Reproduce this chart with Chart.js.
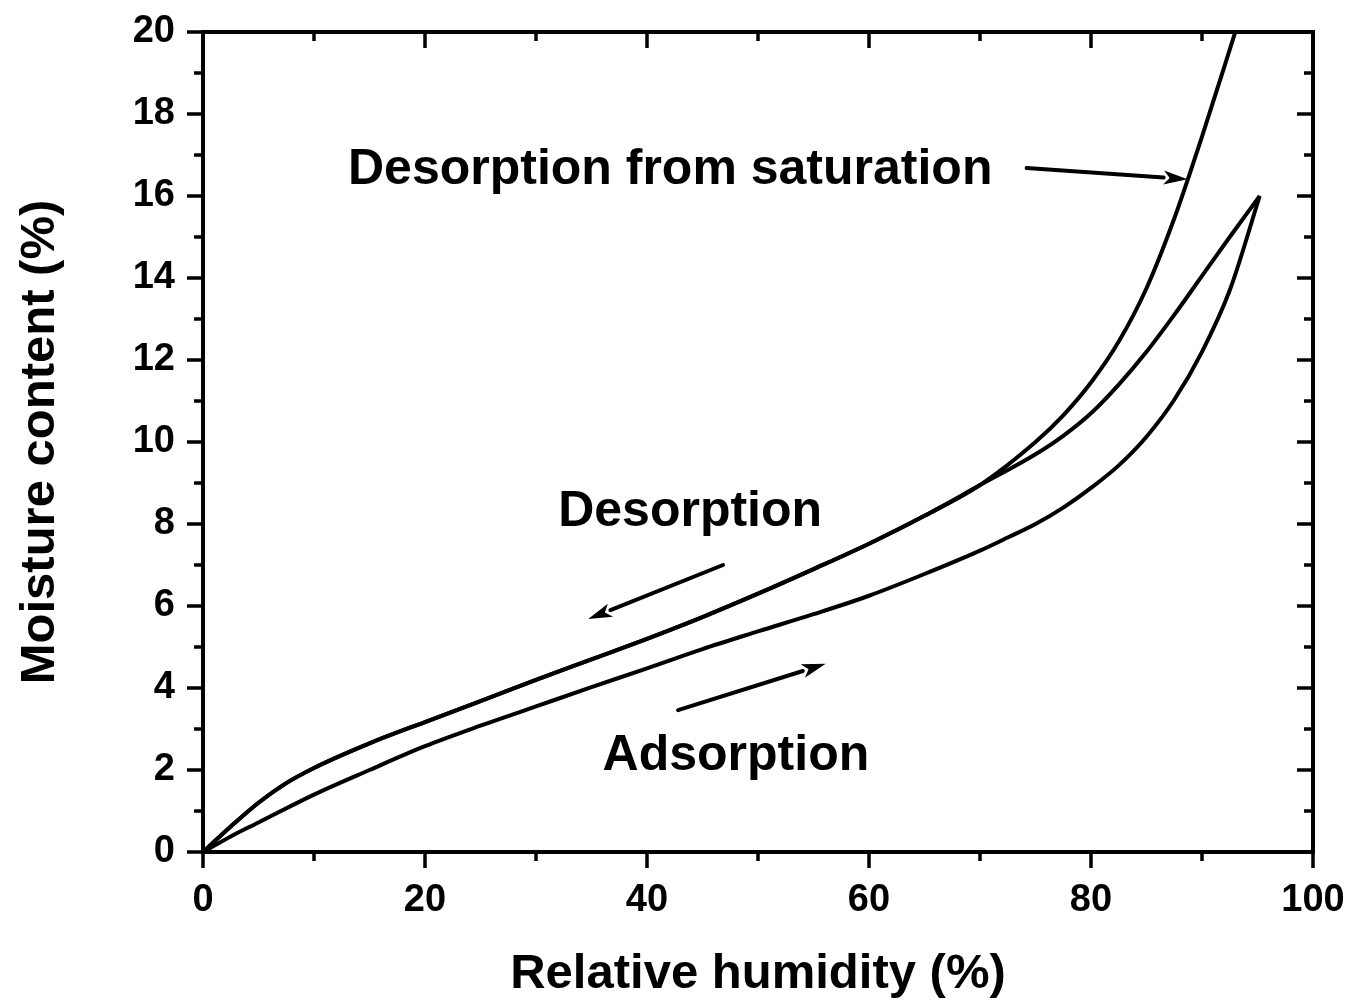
<!DOCTYPE html>
<html><head><meta charset="utf-8">
<script src="https://cdn.jsdelivr.net/npm/chart.js@4.4.1/dist/chart.umd.min.js"></script>
<style>html,body{margin:0;padding:0;background:#fff;}</style>
</head><body>
<canvas id="c" width="1352" height="1007"></canvas>
<script>
// ---- Data ----
const adsorptionRH = [0, 2.5, 5, 10, 15, 20, 25, 30, 35, 40, 45, 50, 55, 60, 65, 70, 72.5, 75, 77.5, 80, 82.5, 85, 87.5, 90, 92.5, 95.2];
const adsorptionMC = [0, 0.38, 0.72, 1.4, 2.0, 2.58, 3.08, 3.55, 4.02, 4.48, 4.95, 5.38, 5.8, 6.25, 6.78, 7.35, 7.67, 8.0, 8.4, 8.88, 9.43, 10.13, 11.03, 12.2, 13.7, 16];

const desorptionRH = [0, 2.5, 5, 7.5, 10, 15, 20, 25, 30, 35, 40, 45, 50, 55, 60, 65, 70, 75, 77.5, 80, 82.5, 85, 87.5, 90, 92.5, 95.2];
const desorptionMC = [0, 0.62, 1.2, 1.68, 2.05, 2.65, 3.17, 3.68, 4.2, 4.7, 5.2, 5.73, 6.3, 6.9, 7.52, 8.2, 8.95, 9.7, 10.15, 10.7, 11.4, 12.2, 13.1, 14.05, 15.0, 16];

const satDesorptionRH = [0, 2.5, 5, 7.5, 10, 15, 20, 25, 30, 35, 40, 45, 50, 55, 60, 65, 70, 75, 77.5, 80, 82.5, 85, 87.5, 90, 93];
const satDesorptionMC = [0, 0.62, 1.2, 1.68, 2.05, 2.65, 3.17, 3.68, 4.2, 4.7, 5.2, 5.73, 6.3, 6.9, 7.52, 8.2, 8.95, 10.0, 10.65, 11.45, 12.45, 13.75, 15.45, 17.45, 20];

const xTickLabels = ['0', '20', '40', '60', '80', '100'];
const yTickLabels = ['0', '2', '4', '6', '8', '10', '12', '14', '16', '18', '20'];

const labelTexts = ['Desorption from saturation', 'Desorption', 'Adsorption'];
const labelX = [13.06, 32.0, 36.0];
const labelY = [16.3, 7.95, 2.0];

const arrowFromX = [74.2, 46.85, 42.8];
const arrowFromY = [16.68, 7.0, 3.46];
const arrowToX = [88.7, 34.7, 56.1];
const arrowToY = [16.41, 5.68, 4.59];

// ---- Helpers ----
const FONT = '"Liberation Sans", Arial, Helvetica, sans-serif';
function pts(xs, ys) { return xs.map((x, i) => ({ x: x, y: ys[i] })); }
function lineDs(label, xs, ys) {
  return { label: label, data: pts(xs, ys), showLine: true, borderColor: '#000', borderWidth: 4,
    pointRadius: 0, pointHoverRadius: 0, fill: false, cubicInterpolationMode: 'monotone' };
}

const framePlugin = {
  id: 'frame',
  afterDatasetsDraw(chart) {
    const { ctx, chartArea: a, scales: { x, y } } = chart;
    ctx.save();
    ctx.strokeStyle = '#000';
    ctx.lineWidth = 4;
    ctx.lineCap = 'butt';
    ctx.strokeRect(a.left, a.top, a.right - a.left, a.bottom - a.top);
    ctx.lineWidth = 3.5;
    ctx.beginPath();
    for (let v = x.min; v <= x.max; v += 10) {
      const px = x.getPixelForValue(v);
      const major = v % 20 === 0;
      const L = major ? 16 : 9;
      ctx.moveTo(px, a.bottom); ctx.lineTo(px, a.bottom + L);
      ctx.moveTo(px, a.top); ctx.lineTo(px, a.top + L);
    }
    for (let v = y.min; v <= y.max; v += 1) {
      const py = y.getPixelForValue(v);
      const major = v % 2 === 0;
      const L = major ? 16 : 9;
      ctx.moveTo(a.left, py); ctx.lineTo(a.left - L, py);
      ctx.moveTo(a.right, py); ctx.lineTo(a.right - L, py);
    }
    ctx.stroke();
    ctx.restore();
  }
};

const annotPlugin = {
  id: 'annot',
  afterDatasetsDraw(chart) {
    const { ctx, scales: { x, y } } = chart;
    ctx.save();
    ctx.fillStyle = '#000';
    ctx.strokeStyle = '#000';
    ctx.font = 'bold 50px ' + FONT;
    ctx.textAlign = 'left';
    ctx.textBaseline = 'alphabetic';
    for (let i = 0; i < labelTexts.length; i++) {
      ctx.fillText(labelTexts[i], x.getPixelForValue(labelX[i]), y.getPixelForValue(labelY[i]));
    }
    for (let i = 0; i < arrowFromX.length; i++) {
      const x0 = x.getPixelForValue(arrowFromX[i]), y0 = y.getPixelForValue(arrowFromY[i]);
      const x1 = x.getPixelForValue(arrowToX[i]), y1 = y.getPixelForValue(arrowToY[i]);
      const ang = Math.atan2(y1 - y0, x1 - x0);
      const hl = 24, hw = 7;
      const bx = x1 - hl * Math.cos(ang), by = y1 - hl * Math.sin(ang);
      ctx.lineWidth = 4;
      ctx.lineCap = 'round';
      ctx.beginPath(); ctx.moveTo(x0, y0); ctx.lineTo(bx, by); ctx.stroke();
      ctx.beginPath();
      ctx.moveTo(x1, y1);
      ctx.lineTo(bx + hw * Math.sin(ang), by - hw * Math.cos(ang));
      ctx.lineTo(bx + 0.25 * hl * Math.cos(ang), by + 0.25 * hl * Math.sin(ang));
      ctx.lineTo(bx - hw * Math.sin(ang), by + hw * Math.cos(ang));
      ctx.closePath(); ctx.fill();
    }
    ctx.restore();
  }
};

const tickFont = { family: FONT, weight: 'bold', size: 38 };
const titleFont = { family: FONT, weight: 'bold', size: 49 };

new Chart(document.getElementById('c'), {
  type: 'scatter',
  data: {
    datasets: [
      lineDs('Adsorption', adsorptionRH, adsorptionMC),
      lineDs('Desorption', desorptionRH, desorptionMC),
      lineDs('Desorption from saturation', satDesorptionRH, satDesorptionMC)
    ]
  },
  options: {
    responsive: false,
    animation: false,
    devicePixelRatio: 1,
    layout: { padding: { left: 11, right: 39, top: 32, bottom: 3 } },
    plugins: { legend: { display: false }, tooltip: { enabled: false } },
    scales: {
      x: {
        type: 'linear', min: 0, max: 100,
        afterBuildTicks(s) { s.ticks = xTickLabels.map(t => ({ value: Number(t) })); },
        ticks: { color: '#000', font: tickFont, padding: 26, maxRotation: 0, autoSkip: false,
          callback: (v) => String(v) },
        grid: { display: false, drawTicks: false },
        border: { display: false },
        title: { display: true, text: 'Relative humidity (%)', color: '#000', font: titleFont, padding: { top: 0, bottom: 0 } },
        afterFit(s) { s.height = 1007 - 852 - 3; s.paddingLeft = 0; s.paddingRight = 0; }
      },
      y: {
        type: 'linear', min: 0, max: 20,
        afterBuildTicks(s) { s.ticks = yTickLabels.map(t => ({ value: Number(t) })); },
        ticks: { color: '#000', font: tickFont, padding: 28, autoSkip: false,
          callback: (v) => String(v) },
        grid: { display: false, drawTicks: false },
        border: { display: false },
        title: { display: true, text: 'Moisture content (%)', color: '#000', font: titleFont, padding: { top: 0, bottom: 0 } },
        afterFit(s) { s.width = 203 - 11; s.paddingTop = 0; s.paddingBottom = 0; }
      }
    }
  },
  plugins: [framePlugin, annotPlugin]
});
</script>
</body></html>
